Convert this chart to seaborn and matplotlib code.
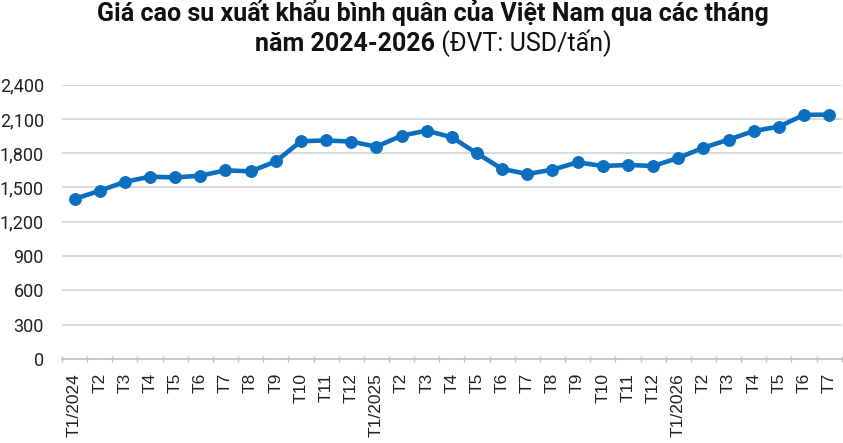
import matplotlib
matplotlib.use("Agg")
import matplotlib.pyplot as plt
import seaborn as sns
import pandas as pd
import numpy as np
from matplotlib.ticker import FuncFormatter, FixedLocator

months = ["T1/2024", "T2", "T3", "T4", "T5", "T6", "T7", "T8", "T9", "T10", "T11", "T12",
          "T1/2025", "T2", "T3", "T4", "T5", "T6", "T7", "T8", "T9", "T10", "T11", "T12",
          "T1/2026", "T2", "T3", "T4", "T5", "T6", "T7"]
prices = [1400, 1471, 1550, 1594, 1588, 1603, 1650, 1641, 1728, 1904, 1912, 1901,
          1857, 1953, 1997, 1939, 1798, 1662, 1618, 1656, 1720, 1688, 1697, 1688,
          1758, 1848, 1918, 1994, 2032, 2135, 2137]
yticks = [0, 300, 600, 900, 1200, 1500, 1800, 2100, 2400]

title_line1 = "Giá cao su xuất khẩu bình quân của Việt Nam qua các tháng"
title_bold2 = "năm 2024-2026"
title_reg2 = " (ĐVT: USD/tấn)"

sns.set_theme(style="white")
plt.rcParams['font.family'] = ['Roboto', 'DejaVu Sans']

df = pd.DataFrame({"pos": np.arange(len(months)), "price": prices})

fig = plt.figure(figsize=(8.43, 4.43), dpi=100)
ax = fig.add_axes([0.0735, 0.1896, 0.925, 0.6195])
color = "#0B6FC0"
sns.lineplot(data=df, x="pos", y="price", ax=ax, color=color, linewidth=3.3,
             marker="o", markersize=8.5, markeredgecolor=color, markerfacecolor=color)

ax.set_xlim(-0.5, len(months) - 0.5)
ax.set_ylim(0, 2400)
ax.set_yticks(yticks)
ax.yaxis.set_major_formatter(FuncFormatter(lambda v, p: f"{int(v):,}"))
ax.set_xticks(np.arange(len(months)))
ax.set_xticklabels(months, rotation=90, fontsize=12.5, color="#222222",
                   family=['Liberation Sans', 'DejaVu Sans'])
ax.tick_params(axis="x", which="major", length=0, pad=10)
ax.xaxis.set_minor_locator(FixedLocator(np.arange(-0.5, len(months), 1.0)))
ax.tick_params(axis="x", which="minor", length=4, color="#bfbfbf", width=1,
               bottom=True, direction="inout")
ax.tick_params(axis="y", labelsize=13, labelcolor="#222222", length=0, pad=13)
ax.grid(axis="y", color="#d9d9d9", linewidth=1.4)
ax.set_axisbelow(True)
for s in ["top", "right", "left"]:
    ax.spines[s].set_visible(False)
ax.spines["bottom"].set_color("#bfbfbf")
ax.spines["bottom"].set_linewidth(1.2)
ax.set_xlabel("")
ax.set_ylabel("")

# Title
H = fig.bbox.height
W = fig.bbox.width
fig.text(0.514, 1 - 21.5 / H, title_line1, ha="center", va="baseline", fontsize=18,
         fontweight="bold", color="#111111")
fig.canvas.draw()
r = fig.canvas.get_renderer()
tb = fig.text(0, 1 - 51 / H, title_bold2, ha="left", va="baseline", fontsize=18,
              fontweight="bold", color="#111111")
tr = fig.text(0, 1 - 51 / H, title_reg2, ha="left", va="baseline", fontsize=18,
              color="#111111")
wb = tb.get_window_extent(r).width
wr = tr.get_window_extent(r).width
start = 0.514 * W - (wb + wr) / 2
tb.set_x(start / W)
tr.set_x((start + wb) / W)

fig.savefig("out.png", dpi=100)
